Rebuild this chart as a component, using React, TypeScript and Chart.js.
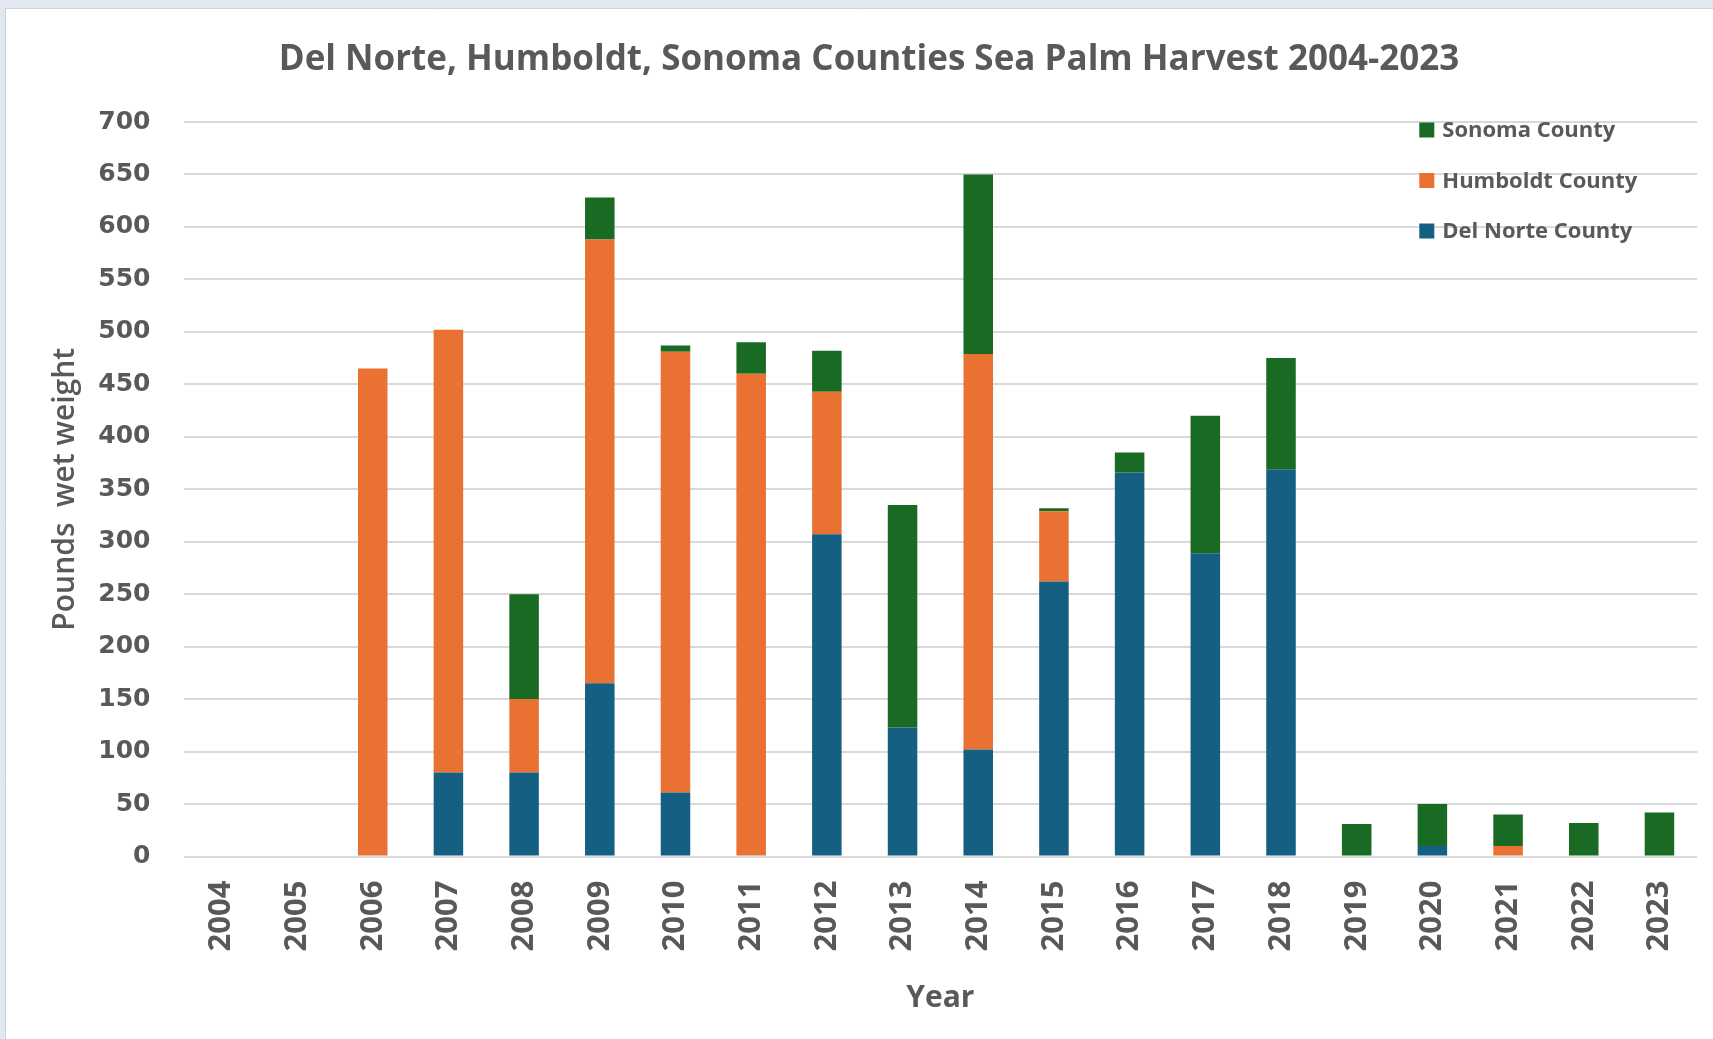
import { useEffect, useRef } from "react";
import { Chart, registerables } from "chart.js";

Chart.register(...registerables);

// Harvest years on the category axis
const years = [
  "2004", "2005", "2006", "2007", "2008", "2009", "2010", "2011", "2012", "2013",
  "2014", "2015", "2016", "2017", "2018", "2019", "2020", "2021", "2022", "2023",
];

// Pounds wet weight by county, stacked bottom to top
const delNorte = [0, 0, 0, 80, 80, 165, 61, 0, 307, 123, 102, 262, 366, 289, 369, 0, 10, 0, 0, 0];
const humboldt = [0, 0, 465, 422, 70, 423, 420, 460, 136, 0, 377, 67, 0, 0, 0, 0, 0, 10, 0, 0];
const sonoma = [0, 0, 0, 0, 100, 40, 6, 30, 39, 212, 171, 3, 19, 131, 106, 31, 40, 30, 32, 42];

// Value axis range
const yMin = 0;
const yMax = 700;
const yStep = 50;

const TEXT = "#595959";
const GRID = "#d9d9d9";
const BLUE = "#156082";
const ORANGE = "#E97132";
const GREEN = "#196B24";

// Light frame around the white chart panel
const framePlugin = {
  id: "frame",
  beforeDraw(chart: any) {
    const { ctx, width, height } = chart;
    ctx.save();
    ctx.fillStyle = "#e3e8f0";
    ctx.fillRect(0, 0, width, height);
    ctx.fillStyle = "#ffffff";
    ctx.fillRect(6, 9, width - 6, height - 9);
    ctx.strokeStyle = "#cdd2d9";
    ctx.lineWidth = 1;
    ctx.beginPath();
    ctx.moveTo(5.5, height);
    ctx.lineTo(5.5, 8.5);
    ctx.lineTo(width, 8.5);
    ctx.stroke();
    ctx.restore();
  },
};

// Legend drawn inside the plot area, top right, listed top series first
const cornerLegend = {
  id: "cornerLegend",
  afterDatasetsDraw(chart: any) {
    const { ctx, chartArea } = chart;
    const x0 = chartArea.right - 278;
    const y0 = chartArea.top + 8;
    const items = [...chart.data.datasets].reverse();
    ctx.save();
    ctx.font = "bold 22px 'Open Sans'";
    ctx.textBaseline = "middle";
    ctx.textAlign = "left";
    items.forEach((ds: any, i: number) => {
      const y = y0 + i * 50.5;
      ctx.fillStyle = ds.backgroundColor;
      ctx.fillRect(x0, y - 7.5, 15, 15);
      ctx.fillStyle = TEXT;
      ctx.fillText(ds.label, x0 + 23, y + 1);
    });
    ctx.restore();
  },
};

export default function App() {
  const canvasRef = useRef<HTMLCanvasElement | null>(null);

  useEffect(() => {
    const canvas = canvasRef.current;
    if (!canvas) return;
    const chart = new Chart(canvas, {
      type: "bar",
      data: {
        labels: years,
        datasets: [
          { label: "Del Norte County", data: delNorte, backgroundColor: BLUE },
          { label: "Humboldt County", data: humboldt, backgroundColor: ORANGE },
          { label: "Sonoma County", data: sonoma, backgroundColor: GREEN },
        ],
      },
      options: {
        responsive: false,
        animation: false,
        devicePixelRatio: 1,
        layout: { padding: { left: 39, right: 14, top: 0, bottom: 0 } },
        datasets: {
          bar: { barPercentage: 0.39, categoryPercentage: 1, borderWidth: 0 },
        },
        plugins: {
          legend: { display: false },
          tooltip: { enabled: false },
          title: {
            display: true,
            text: "Del Norte, Humboldt, Sonoma Counties Sea Palm Harvest 2004-2023",
            color: TEXT,
            font: { family: "'Open Sans'", size: 35, weight: "bold" },
            padding: { top: 39, bottom: 41 },
          },
        },
        scales: {
          x: {
            stacked: true,
            grid: { display: false },
            border: { display: false },
            ticks: {
              color: TEXT,
              font: { family: "'Open Sans'", size: 31, weight: "bold" },
              minRotation: 90,
              maxRotation: 90,
              autoSkip: false,
              padding: 16,
            },
            title: {
              display: true,
              text: "Year",
              color: TEXT,
              font: { family: "'Open Sans'", size: 30, weight: "bold" },
              padding: { top: 0, bottom: 23 },
            },
            afterFit(scale: any) {
              scale.height = 182.5;
            },
          },
          y: {
            stacked: true,
            min: yMin,
            max: yMax,
            grid: { color: GRID, lineWidth: 2, drawTicks: false },
            border: { display: false },
            ticks: {
              stepSize: yStep,
              color: TEXT,
              font: { family: "'DejaVu Sans'", size: 25, weight: "bold" },
              padding: 33,
            },
            title: {
              display: true,
              text: "Pounds  wet weight",
              color: TEXT,
              font: { family: "'Open Sans'", size: 30, weight: "600" },
              padding: { top: 8, bottom: 0 },
            },
            afterFit(scale: any) {
              scale.width = 144.5;
            },
          },
        },
      },
      plugins: [framePlugin, cornerLegend],
    });
    return () => chart.destroy();
  }, []);

  return (
    <div style={{ position: "absolute", left: 0, top: 0, width: 1713, height: 1039 }}>
      <canvas ref={canvasRef} width={1713} height={1039} style={{ display: "block" }} />
    </div>
  );
}
